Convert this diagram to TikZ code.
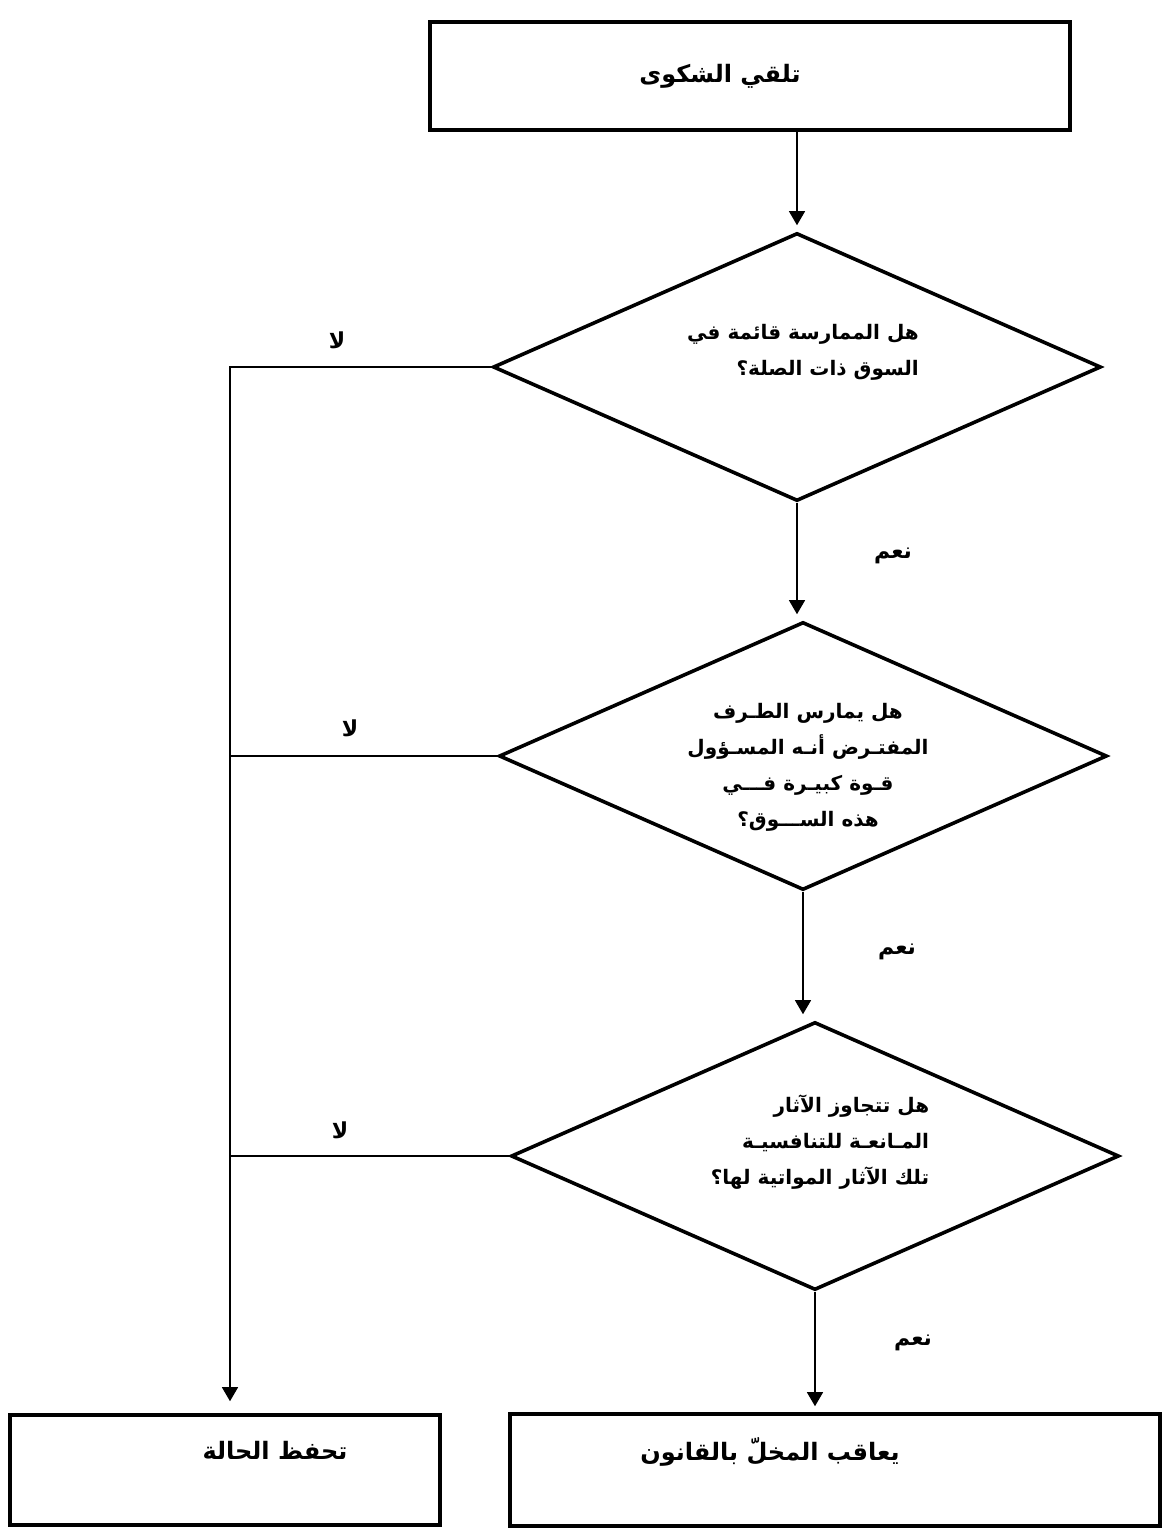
\documentclass[tikz,border=0pt]{standalone}
\usepackage{fontspec}
\usetikzlibrary{shapes.geometric,arrows.meta}
\newfontfamily\arabicfont[Script=Arabic]{DejaVu Sans}
\TeXXeTstate=1
\newcommand{\artxt}[1]{\beginR #1\endR}

\begin{document}
\begin{tikzpicture}[x=0.5pt,y=-0.5pt,
  box/.style={draw,line width=1.8pt,inner sep=0pt},
  cond/.style={draw,diamond,line width=1.8pt,aspect=2.3,inner sep=0pt,
    minimum width=304pt,minimum height=134pt},
  boxtxt/.style={font=\arabicfont\bfseries\fontsize{12}{14}\selectfont},
  condtxt/.style={align=right,inner sep=0pt,
    font=\arabicfont\bfseries\fontsize{10}{18}\selectfont},
  lbl/.style={font=\arabicfont\bfseries\fontsize{11}{13}\selectfont},
  flow/.style={draw,line width=0.6pt,shorten >=3pt,
    -{Triangle[width=8pt,length=7pt]}}]
\useasboundingbox (0,0) rectangle (1171,1528);

\node[box,minimum width=320pt,minimum height=54pt] (recv) at (750,76) {};
\node[boxtxt] (recvt) at (720,76) {\artxt{تلقي الشكوى}};

\node[cond] (d1) at (797,367) {};
\node[condtxt] (d1t) at (803,352) {\artxt{هل الممارسة قائمة في}\\
  \artxt{السوق ذات الصلة؟}};

\node[cond] (d2) at (803,756) {};
\node[condtxt,align=center] (d2t) at (808,767) {\artxt{هل يمارس الطـرف}\\
  \artxt{المفتـرض أنـه المسـؤول}\\
  \artxt{قـوة كبيـرة فـــي}\\
  \artxt{هذه الســـوق؟}};

\node[cond] (d3) at (815,1156) {};
\node[condtxt] (d3t) at (820,1142) {\artxt{هل تتجاوز الآثار}\\
  \artxt{المـانعـة للتنافسيـة}\\
  \artxt{تلك الآثار المواتية لها؟}};

\node[box,minimum width=215pt,minimum height=55pt] (arch) at (225,1470) {};
\node[boxtxt] (archt) at (275,1450) {\artxt{تحفظ الحالة}};

\node[box,minimum width=325pt,minimum height=56pt] (pun) at (835,1470) {};
\node[boxtxt] (punt) at (770,1452) {\artxt{يعاقب المخلّ بالقانون}};

\coordinate (bus) at (230,376);

\node[lbl] (no1) at (337,340) {\artxt{لا}};
\node[lbl] (no2) at (350,728) {\artxt{لا}};
\node[lbl] (no3) at (340,1130) {\artxt{لا}};
\node[lbl] (yes1) at (893,556) {\artxt{نعم}};
\node[lbl] (yes2) at (897,952) {\artxt{نعم}};
\node[lbl] (yes3) at (913,1343) {\artxt{نعم}};

\draw[flow] (recv.south -| d1.north) -- (d1.north);
\draw[flow] (d1.south) -- (d1.south |- d2.north);
\draw[flow] (d2.south) -- (d2.south |- d3.north);
\draw[flow] (d3.south) -- (d3.south |- pun.north);
\draw[flow,shorten >=6pt] (d1.west) -- (d1.west -| bus) -- (bus |- arch.north);
\draw[line width=0.6pt] (d2.west) -- (d2.west -| bus);
\draw[line width=0.6pt] (d3.west) -- (d3.west -| bus);
\end{tikzpicture}
\end{document}
